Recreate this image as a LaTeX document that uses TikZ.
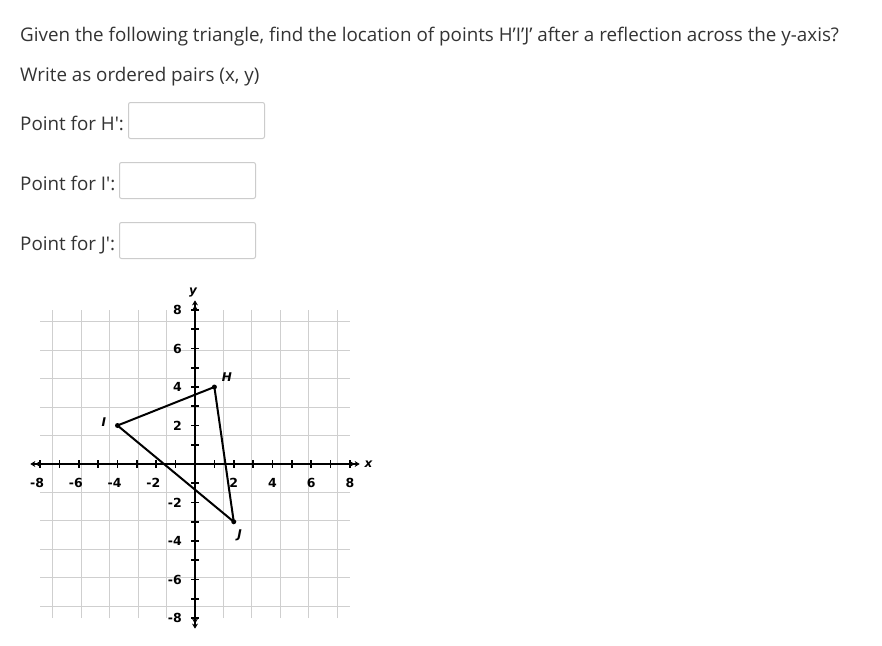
\documentclass[tikz,border=0pt]{standalone}
\usepackage{fontspec}
\setmainfont{Open Sans}
\newfontfamily\graphfont{DejaVu Sans}
\usetikzlibrary{arrows.meta}
\definecolor{txt}{HTML}{333333}
\definecolor{boxborder}{HTML}{CCCCCC}
\definecolor{gridgray}{HTML}{CFCFCF}
\tikzset{
  qtext/.style={anchor=base west, inner sep=0pt, text=txt, font=\fontsize{18.8}{22}\selectfont},
  inputbox/.style={draw=boxborder, line width=1pt, rounded corners=2pt, anchor=north west, minimum width=136pt, minimum height=36pt, inner sep=0pt},
  gridline/.style={draw=gridgray, line width=1.1pt},
  axisline/.style={line width=2pt, {Stealth[length=5pt,width=6pt]Stealth[length=5pt,width=6pt]}-{Stealth[length=5pt,width=6pt]Stealth[length=5pt,width=6pt]}},
  tickmark/.style={line width=1.6pt},
  numlabel/.style={font=\graphfont\bfseries\fontsize{12.5}{14}\selectfont, inner sep=0pt},
  ptlabel/.style={font=\graphfont\bfseries\itshape\fontsize{12}{14}\selectfont, inner sep=0pt},
  side/.style={line width=2pt, line join=round},
  dot/.style={circle, fill=black, inner sep=0pt, minimum size=5pt},
}
\begin{document}
\begin{tikzpicture}[x=1pt, y=-1pt]
\useasboundingbox (0,0) rectangle (882,645);
\fill[white] (0,0) rectangle (882,645);
\node[qtext] (title) at (20,41) {Given the following triangle, find the location of points H’I’J’ after a reflection across the y-axis?};
\node[qtext] (sub) at (20,81) {Write as ordered pairs (x, y)};
\node[qtext] (lh) at (20,130) {Point for H\textquotesingle:};
\node[inputbox] (bh) at (128,102) {};
\node[qtext] (li) at (20,190) {Point for I\textquotesingle:};
\node[inputbox] (bi) at (119,162) {};
\node[qtext] (lj) at (20,250) {Point for J\textquotesingle:};
\node[inputbox] (bj) at (119,222) {};
\begin{scope}[shift={(195,464)}, x=19.375pt, y=19.25pt]
  \draw[gridline] (-8,-8) grid (8,8);
  \coordinate (xl) at (-8.5,0);
  \coordinate (xr) at (8.5,0);
  \coordinate (yb) at (0,-8.55);
  \coordinate (yt) at (0,8.5);
  \draw[axisline] (xl) -- (xr);
  \draw[axisline] (yb) -- (yt);
  \foreach \i in {-8,...,8} {
    \ifnum\i=0\else
      \draw[tickmark] (\i,-0.2) -- (\i,0.2);
      \draw[tickmark] (-0.2,\i) -- (0.2,\i);
    \fi
  }
  \foreach \i in {-8,-6,-4,-2} {
    \node[numlabel, anchor=east] at (\i+0.22,-1.0) {-\the\numexpr-\i\relax};
    \node[numlabel, anchor=east] at (-0.67,\i) {-\the\numexpr-\i\relax};
  }
  \foreach \i in {2,4,6,8} {
    \node[numlabel] at (\i,-1.0) {\i};
    \node[numlabel, anchor=east] at (-0.67,\i) {\i};
  }
  \node[ptlabel] (xlab) at (8.95,0) {x};
  \node[ptlabel] (ylab) at (-0.1,8.9) {y};
  \node[dot] (H) at (1,4) {};
  \node[dot] (I) at (-4,2) {};
  \node[dot] (J) at (2,-3) {};
  \draw[side] (H.center) -- (I.center) -- (J.center) -- cycle;
  \node[ptlabel] (Hl) at (1.65,4.5) {H};
  \node[ptlabel] (Il) at (-4.7,2.2) {I};
  \node[ptlabel] (Jl) at (2.3,-3.7) {J};
\end{scope}
\end{tikzpicture}
\end{document}
